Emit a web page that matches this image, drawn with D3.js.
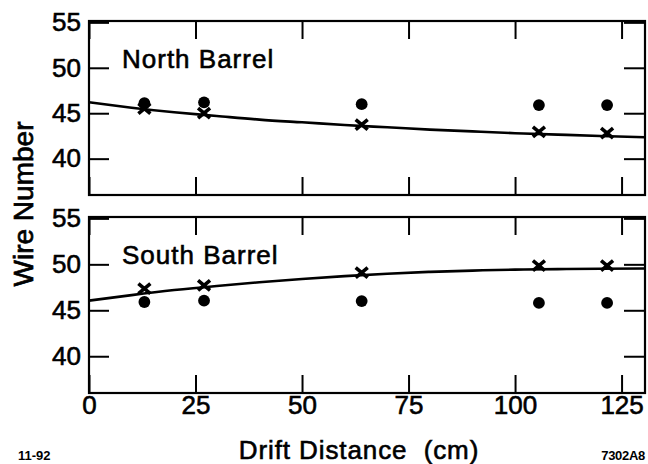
<!DOCTYPE html>
<html><head><meta charset="utf-8">
<script src="https://cdn.jsdelivr.net/npm/d3@7"></script>
<style>
html,body{margin:0;padding:0;background:#fff;}
svg{display:block;font-family:"Liberation Sans",Arial,Helvetica,sans-serif;}
</style></head>
<body>
<svg id="c" width="648" height="464"></svg>
<script>
// ---- data ----
const xTicks = [0, 25, 50, 75, 100, 125];
const yTicks = [40, 45, 50, 55];
const driftX = [13, 27, 64, 105.6, 121.6];

const northDots  = [46.1, 46.2, 46.0, 45.9, 45.9];
const northCross = [45.5, 45.0, 43.75, 42.95, 42.8];
const northCurveX = [0, 10, 20, 30, 40, 50, 60, 70, 80, 90, 100, 110, 120, 130.5];
const northCurveY = [46.2, 45.6, 45.1, 44.7, 44.3, 44.0, 43.7, 43.45, 43.2, 43.0, 42.8, 42.65, 42.5, 42.35];

const southDots  = [45.9, 46.05, 46.0, 45.8, 45.8];
const southCross = [47.35, 47.7, 49.1, 49.85, 49.85];
const southCurveX = [0, 10, 20, 30, 40, 50, 60, 70, 80, 90, 100, 110, 120, 130.5];
const southCurveY = [46.05, 46.65, 47.2, 47.65, 48.05, 48.4, 48.72, 48.98, 49.18, 49.32, 49.42, 49.48, 49.52, 49.55];

const panelNames = ["North Barrel", "South Barrel"];

// ---- drawing ----
const svg = d3.select("#c");
const x = d3.scaleLinear().domain([0, 130.5]).range([89, 645]);
const panels = [
  {name: panelNames[0], y: d3.scaleLinear().domain([36, 55.15]).range([195, 21]),
   dots: northDots, cross: northCross, cx: northCurveX, cy: northCurveY, labels: false},
  {name: panelNames[1], y: d3.scaleLinear().domain([36, 55.15]).range([393, 217]),
   dots: southDots, cross: southCross, cx: southCurveX, cy: southCurveY, labels: true}
];

function heavy(sel, w) {
  sel.attr("fill", "#000").attr("stroke", "#000").attr("stroke-width", w)
     .attr("paint-order", "stroke");
}

panels.forEach(p => {
  const y = p.y;
  const [yb, yt] = y.range();
  const g = svg.append("g");

  const la = g.append("g").attr("transform", `translate(${x.range()[0]},0)`)
    .call(d3.axisLeft(y).tickValues(yTicks).tickSize(-20).tickPadding(8).tickFormat(d3.format("d")));
  const ra = g.append("g").attr("transform", `translate(${x.range()[1]},0)`)
    .call(d3.axisRight(y).tickValues(yTicks).tickSize(-21).tickFormat(""));
  const ta = g.append("g").attr("transform", `translate(0,${yt})`)
    .call(d3.axisTop(x).tickValues(xTicks).tickSize(-18).tickFormat(""));
  const ba = g.append("g").attr("transform", `translate(0,${yb})`)
    .call(d3.axisBottom(x).tickValues(xTicks).tickSize(-18).tickPadding(3)
      .tickFormat(p.labels ? d3.format("d") : ""));

  [la, ra, ta, ba].forEach(a => {
    a.select(".domain").remove();
    a.selectAll(".tick line").attr("stroke", "#000").attr("stroke-width", 2);
    const t = a.selectAll(".tick text").attr("font-size", 26)
      .attr("font-family", "Liberation Sans, Arial, sans-serif");
    heavy(t, 0.6);
  });

  g.append("rect").attr("x", x.range()[0]).attr("y", yt)
    .attr("width", x.range()[1] - x.range()[0]).attr("height", yb - yt)
    .attr("fill", "none").attr("stroke", "#000").attr("stroke-width", 2.2);

  const pts = p.cx.map((v, i) => [v, p.cy[i]]);
  g.append("path").datum(pts)
    .attr("d", d3.line().x(d => x(d[0])).y(d => y(d[1])).curve(d3.curveNatural))
    .attr("fill", "none").attr("stroke", "#000").attr("stroke-width", 2.6);

  g.selectAll("circle.dot").data(driftX.map((v, i) => [v, p.dots[i]])).enter()
    .append("circle").attr("class", "dot")
    .attr("cx", d => x(d[0])).attr("cy", d => y(d[1])).attr("r", 5.9).attr("fill", "#000");

  const cg = g.selectAll("g.cross").data(driftX.map((v, i) => [v, p.cross[i]])).enter()
    .append("g").attr("class", "cross")
    .attr("transform", d => `translate(${x(d[0])},${y(d[1])})`);
  cg.append("path").attr("d", "M-6,-5L6,5M-6,5L6,-5")
    .attr("stroke", "#000").attr("stroke-width", 3.6).attr("fill", "none");

  const lbl = g.append("text").attr("x", 122).attr("y", yt + 47).text(p.name)
    .attr("font-size", 26).attr("letter-spacing", 1);
  heavy(lbl, 0.6);
});

const xt = svg.append("text").attr("x", 359).attr("y", 459).attr("text-anchor", "middle")
  .attr("font-size", 26).attr("letter-spacing", 0.9)
  .attr("xml:space", "preserve").style("white-space", "pre")
  .text("Drift Distance  (cm)");
heavy(xt, 0.6);
const yl = svg.append("text").attr("transform", "translate(33,204) rotate(-90)")
  .attr("text-anchor", "middle").attr("font-size", 28)
  .text("Wire Number");
heavy(yl, 0.7);

svg.append("text").attr("x", 18).attr("y", 460).attr("font-size", 13)
  .attr("font-weight", "bold").attr("fill", "#000").text("11-92");
svg.append("text").attr("x", 645).attr("y", 460).attr("text-anchor", "end").attr("font-size", 13)
  .attr("font-weight", "bold").attr("letter-spacing", -0.3).attr("fill", "#000").text("7302A8");
</script>
</body></html>
